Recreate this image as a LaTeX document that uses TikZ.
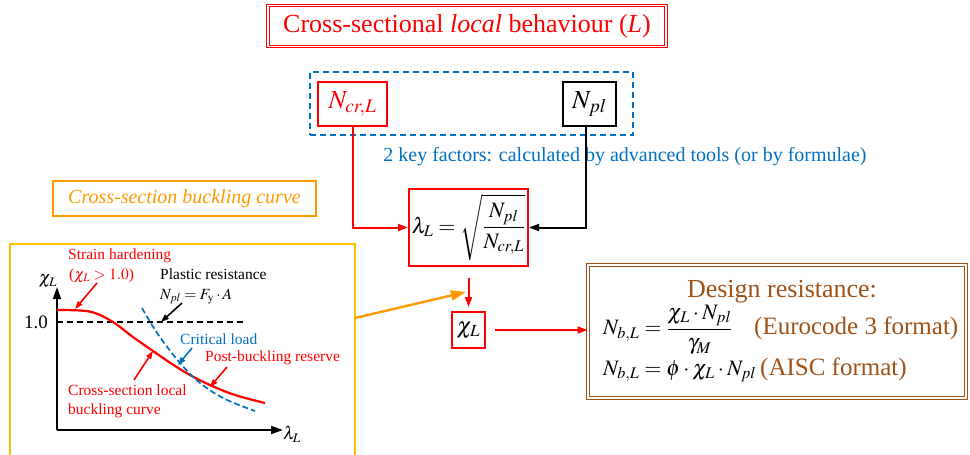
\documentclass[tikz,border=0pt]{standalone}
\usepackage{amsmath}
\usepackage{mathptmx}
\usepackage{fontspec}
\setmainfont{Liberation Serif}
\usetikzlibrary{arrows.meta,calc}
\definecolor{cred}{RGB}{255,0,0}
\definecolor{cblue}{RGB}{0,112,192}
\definecolor{corange}{RGB}{255,153,0}
\definecolor{cgold}{RGB}{255,192,0}
\definecolor{cbrown}{RGB}{158,82,24}
\newcommand{\myfs}[1]{\fontsize{#1}{#1}\selectfont}
\tikzset{
  redbox/.style={draw=cred, line width=2pt, inner sep=0pt},
  blkbox/.style={draw=black, line width=2pt, inner sep=0pt},
  titlebox/.style={draw=cred, double=white, double distance=1.6pt, line width=1pt, inner sep=0pt, text=cred},
  brownbox/.style={draw=cbrown, double=white, double distance=1.6pt, line width=1pt, inner sep=0pt},
  bluedashbox/.style={draw=cblue, dash pattern=on 6pt off 4pt, line width=2pt, inner sep=0pt},
  orangebox/.style={draw=corange, line width=2pt, inner sep=0pt, text=corange},
  goldbox/.style={draw=cgold, line width=2pt, inner sep=0pt},
  redarr/.style={draw=cred, line width=2pt, -{Triangle[length=10pt,width=7pt]}},
  blkarr/.style={draw=black, line width=2pt, -{Triangle[length=10pt,width=7pt]}},
  orgarr/.style={draw=corange, line width=2.4pt, -{Triangle[length=15pt,width=10pt]}},
  axisarr/.style={draw=black, line width=1.8pt, -{Triangle[length=12pt,width=8pt]}},
  smallarr/.style={line width=1.6pt, -{Triangle[length=8pt,width=5.5pt]}},
  lbl/.style={anchor=base west, inner sep=0pt, font=\myfs{15.5}},
}
\begin{document}
\begin{tikzpicture}[x=1pt,y=-1pt]
\useasboundingbox (0,0) rectangle (970,455);

% title
\node[titlebox, minimum width=398pt, minimum height=41pt, font=\myfs{26}] (title) at (467,26)
  {Cross-sectional \textit{local} behaviour (\textit{L})};

% key factors
\node[bluedashbox, minimum width=323pt, minimum height=63pt] (factors) at (471.5,103.5) {};
\node[redbox, minimum width=69pt, minimum height=44pt, text=cred, font=\myfs{26}] (ncr) at (352.5,104) {$N_{cr,L}$};
\node[blkbox, minimum width=53pt, minimum height=44pt, font=\myfs{26}] (npl) at (589.5,104) {$N_{pl}$};
\node[text=cblue, font=\myfs{20}, inner sep=0pt, anchor=base] (keytext) at (625,161)
  {2 key factors: calculated by advanced tools (or by formulae)};

% lambda box
\node[redbox, minimum width=119pt, minimum height=77pt, font=\myfs{22}] (lam) at (468.5,227.5)
  {$\lambda_L=\sqrt{\dfrac{N_{pl}}{N_{cr,L}}}$};

% chi box
\node[redbox, minimum width=33pt, minimum height=36pt, font=\myfs{23}] (chi) at (468.5,330) {$\chi_L$};

% design box
\node[brownbox, minimum width=378pt, minimum height=133pt] (design) at (777,331.5) {};
\node[text=cbrown, font=\myfs{26}, inner sep=0pt, anchor=base] (dtitle) at (782,297) {Design resistance:};
\node[font=\myfs{22}, inner sep=0pt, anchor=west] (f1) at (603,330) {$N_{b,L}=\dfrac{\chi_L\cdot N_{pl}}{\gamma_M}$};
\node[text=cbrown, font=\myfs{25}, inner sep=0pt, anchor=base west] (ec3) at (754,334) {(Eurocode 3 format)};
\node[font=\myfs{22}, inner sep=0pt, anchor=base west] (f2) at (603,375) {$N_{b,L}=\phi\cdot\chi_L\cdot N_{pl}$};
\node[text=cbrown, font=\myfs{25}, inner sep=0pt, anchor=base west] (aisc) at (760,375) {(AISC format)};

% buckling curve title
\node[orangebox, minimum width=263pt, minimum height=35pt, font=\myfs{20}] (cbc) at (184.5,198.5)
  {\itshape Cross-section buckling curve};

% graph box
\node[goldbox, minimum width=345pt, minimum height=226pt] (graph) at (182.5,357) {};

% connectors
\draw[redarr] (ncr.south) |- (lam.west);
\draw[blkarr] ([xshift=-4pt]npl.south) |- (lam.east);
\draw[redarr, shorten <=11pt, shorten >=4pt] (lam) -- (chi);
\draw[redarr, shorten <=9pt] (chi.east) -- (chi.east -| design.west);
\coordinate (gs) at (355,318);
\coordinate (oend) at (466,292);
\draw[orgarr] (gs) -- (oend);

% graph content
\coordinate (O) at (57,430);
\coordinate (ytop) at (57,287);
\coordinate (xend) at (283,430);
\draw[axisarr] (O) -- (ytop);
\draw[axisarr] (O) -- (xend);
\node[font=\myfs{18}, inner sep=0pt] (ylab) at (48,281) {$\chi_L$};
\node[font=\myfs{18}, inner sep=0pt] (xlab) at (292,434) {$\lambda_L$};
\node[font=\myfs{19}, inner sep=0pt] (one) at (36,322) {1.0};
\coordinate (d1) at (57,322);
\coordinate (d2) at (245,322);
\draw[black, line width=1.8pt, dash pattern=on 6pt off 4pt] (d1) -- (d2);

\draw[cred, line width=2.2pt] plot[smooth, tension=0.6] coordinates
  {(57,310) (80,310.5) (95,313) (113,322) (133,337) (153,351) (172,364) (190,375) (210,385) (235,395) (265,403)};
\draw[cblue, line width=1.7pt, dash pattern=on 6pt off 3pt] plot[smooth, tension=0.6] coordinates
  {(142,308) (152,325) (162,340) (180,363) (200,383) (225,399) (255,411)};

% graph labels
\node[lbl, text=cred] (sh1) at (68,259) {Strain hardening};
\node[lbl, text=cred] (sh2) at (69,279) {($\chi_L>1.0$)};
\node[lbl] (pr1) at (160,279) {Plastic resistance};
\node[lbl] (pr2) at (160,299) {$N_{pl}=F_{\mathrm{y}}\cdot A$};
\node[lbl, text=cblue] (cl) at (180,344) {Critical load};
\node[lbl, text=cred] (pb) at (205,361) {Post-buckling reserve};
\node[lbl, text=cred] (cs1) at (68,395) {Cross-section local};
\node[lbl, text=cred] (cs2) at (68,414) {buckling curve};

\coordinate (a1s) at (97,283);  \coordinate (a1e) at (75,309);
\coordinate (a2s) at (182,303); \coordinate (a2e) at (161,322);
\coordinate (a3s) at (192,348); \coordinate (a3e) at (178,365);
\coordinate (a4s) at (227,367); \coordinate (a4e) at (210,387);
\coordinate (a5s) at (134,380); \coordinate (a5e) at (153,351);
\draw[smallarr, cred] (a1s) -- (a1e);
\draw[smallarr, black] (a2s) -- (a2e);
\draw[smallarr, cblue] (a3s) -- (a3e);
\draw[smallarr, cred] (a4s) -- (a4e);
\draw[smallarr, cred] (a5s) -- (a5e);
\end{tikzpicture}
\end{document}
